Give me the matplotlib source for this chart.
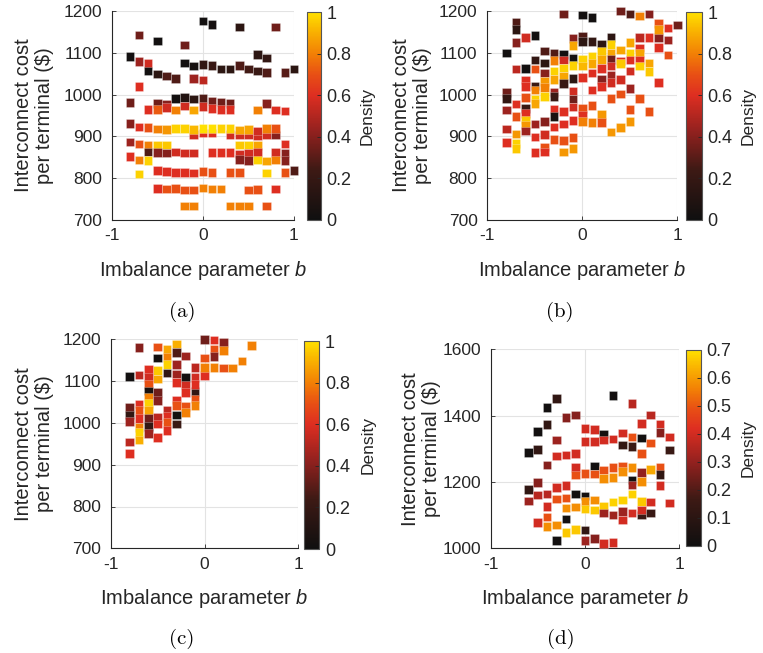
import numpy as np
import matplotlib
matplotlib.use("Agg")
import matplotlib.pyplot as plt
from matplotlib.colors import LinearSegmentedColormap, Normalize

plt.rcParams['font.family'] = ['Liberation Sans', 'DejaVu Sans']
plt.rcParams['mathtext.fontset'] = 'custom'
plt.rcParams['mathtext.rm'] = 'Liberation Sans'
plt.rcParams['mathtext.it'] = 'Liberation Sans:italic'

#=============================================================================
# DATA  (imbalance b, cost per terminal, density)
#=============================================================================

pts_a = [
    (0.0, 1176, 0.02), (0.1, 1168, 0.03), (0.4, 1162, 0.15), (0.8, 1162, 0.35),
    (-0.7, 1143, 0.35), (-0.5, 1128, 0.02), (-0.2, 1119, 0.35), (-0.8, 1091, 0.02),
    (0.6, 1096, 0.15), (0.7, 1088, 0.18), (-0.7, 1079, 0.45), (-0.6, 1075, 0.57),
    (-0.2, 1076, 0.02), (-0.1, 1068, 0.04), (0.0, 1072, 0.18), (0.1, 1069, 0.22),
    (0.2, 1061, 0.15), (0.3, 1061, 0.15), (0.4, 1069, 0.28), (0.5, 1061, 0.25),
    (0.6, 1056, 0.22), (0.7, 1053, 0.28), (0.9, 1053, 0.3), (1.0, 1061, 0.15),
    (-0.6, 1056, 0.02), (-0.5, 1049, 0.15), (-0.4, 1044, 0.28), (-0.3, 1039, 0.28),
    (-0.1, 1039, 0.45), (0.0, 1035, 0.52), (-0.7, 1019, 0.6), (-0.8, 981, 0.35),
    (-0.3, 991, 0.02), (-0.2, 993, 0.1), (-0.1, 989, 0.15), (0.0, 991, 0.28),
    (0.1, 985, 0.35), (0.2, 982, 0.35), (0.3, 979, 0.35), (0.7, 979, 0.4),
    (-0.5, 979, 0.35), (-0.4, 977, 0.4), (-0.6, 965, 0.6), (-0.5, 965, 0.72),
    (-0.4, 969, 0.57), (-0.3, 963, 0.8), (-0.2, 973, 0.57), (-0.1, 963, 0.88),
    (0.0, 971, 0.57), (0.1, 967, 0.6), (0.2, 965, 0.6), (0.3, 965, 0.6),
    (0.6, 963, 0.8), (0.8, 963, 0.6), (0.9, 961, 0.6), (-0.8, 931, 0.4),
    (-0.1, 905, 0.57), (0.0, 908, 0.6), (0.1, 908, 0.6), (0.3, 905, 0.57),
    (0.4, 903, 0.57), (0.5, 905, 0.57), (0.6, 901, 0.57), (0.7, 905, 0.57),
    (0.8, 903, 0.4), (-0.7, 923, 0.6), (-0.6, 921, 0.7), (-0.5, 918, 0.8),
    (-0.4, 917, 0.85), (-0.3, 919, 0.97), (-0.2, 919, 0.97), (-0.1, 917, 0.92),
    (0.0, 919, 1.0), (0.1, 919, 1.0), (0.2, 919, 0.97), (0.3, 919, 0.97),
    (0.4, 915, 0.88), (0.5, 917, 0.88), (0.6, 913, 0.57), (0.7, 919, 0.8),
    (0.8, 919, 0.7), (-0.8, 887, 0.45), (-0.7, 882, 0.7), (-0.6, 878, 0.8),
    (-0.5, 879, 0.95), (-0.4, 879, 0.95), (0.4, 879, 0.95), (0.5, 879, 0.97),
    (0.6, 878, 0.88), (0.9, 882, 0.6), (-0.6, 863, 0.28), (-0.5, 861, 0.4),
    (-0.4, 860, 0.4), (-0.3, 863, 0.57), (-0.2, 860, 0.57), (-0.1, 860, 0.57),
    (0.1, 861, 0.6), (0.2, 861, 0.6), (0.3, 861, 0.6), (0.4, 858, 0.57),
    (0.5, 860, 0.57), (0.6, 862, 0.57), (0.8, 862, 0.57), (0.9, 860, 0.4),
    (-0.8, 852, 0.6), (-0.7, 844, 0.8), (-0.6, 842, 0.97), (0.4, 845, 0.4),
    (0.5, 842, 0.4), (0.6, 844, 0.97), (0.7, 841, 0.88), (0.8, 844, 0.8),
    (0.9, 842, 0.4), (-0.7, 810, 0.97), (-0.5, 818, 0.6), (-0.4, 816, 0.6),
    (-0.3, 813, 0.6), (-0.2, 813, 0.6), (-0.1, 812, 0.6), (0.0, 816, 0.7),
    (0.1, 813, 0.7), (0.3, 813, 0.7), (0.4, 813, 0.7), (0.7, 812, 0.97),
    (0.9, 813, 0.7), (1.0, 818, 0.28), (-0.5, 776, 0.6), (-0.4, 774, 0.7),
    (-0.3, 776, 0.7), (-0.2, 772, 0.7), (-0.1, 772, 0.7), (0.0, 777, 0.8),
    (0.1, 774, 0.8), (0.2, 774, 0.8), (0.5, 772, 0.7), (0.6, 773, 0.7),
    (0.8, 774, 0.6), (-0.2, 734, 0.8), (-0.1, 734, 0.8), (0.3, 734, 0.8),
    (0.4, 734, 0.8), (0.5, 734, 0.8), (0.7, 734, 0.7),
]

pts_b = [
    (-0.2, 1193, 0.35), (0.0, 1190, 0.02), (0.1, 1184, 0.02), (0.4, 1200, 0.35),
    (0.5, 1193, 0.28), (0.6, 1188, 0.8), (0.7, 1193, 0.4), (0.8, 1170, 0.7),
    (0.9, 1159, 0.6), (1.0, 1167, 0.35), (-0.7, 1172, 0.28), (-0.7, 1156, 0.15),
    (-0.7, 1124, 0.4), (-0.6, 1136, 0.57), (-0.5, 1141, 0.02), (-0.8, 1099, 0.02),
    (-0.4, 1104, 0.28), (-0.3, 1099, 0.28), (-0.2, 1096, 0.02), (-0.1, 1134, 0.4),
    (-0.1, 1117, 0.88), (0.0, 1140, 0.28), (0.0, 1127, 0.15), (0.1, 1127, 0.18),
    (0.2, 1121, 0.15), (0.3, 1136, 0.15), (0.3, 1120, 0.97), (0.4, 1107, 0.88),
    (0.5, 1124, 0.88), (0.6, 1136, 0.52), (0.6, 1111, 0.6), (0.6, 1099, 0.88),
    (0.7, 1136, 0.6), (0.8, 1136, 0.4), (0.8, 1113, 0.6), (0.9, 1131, 0.45),
    (0.9, 1095, 0.7), (0.8, 1156, 0.85), (-0.5, 1083, 0.18), (-0.4, 1076, 0.15),
    (-0.3, 1081, 0.8), (-0.2, 1083, 0.57), (-0.1, 1087, 0.02), (0.0, 1084, 0.97),
    (0.0, 1068, 0.92), (0.1, 1092, 0.97), (0.1, 1075, 0.88), (0.2, 1103, 0.95),
    (0.2, 1084, 0.88), (0.3, 1099, 0.88), (0.3, 1084, 0.35), (0.3, 1068, 0.57),
    (0.4, 1080, 0.6), (0.4, 1075, 0.95), (0.5, 1100, 0.97), (0.5, 1083, 0.6),
    (0.5, 1056, 0.57), (0.6, 1083, 0.6), (0.6, 1068, 0.97), (0.7, 1076, 0.88),
    (0.7, 1055, 0.95), (0.8, 1029, 0.6), (-0.7, 1061, 0.52), (-0.6, 1063, 0.02),
    (-0.5, 1061, 0.7), (-0.4, 1052, 0.4), (-0.3, 1056, 0.97), (-0.3, 1036, 0.88),
    (-0.2, 1064, 0.97), (-0.2, 1044, 0.88), (-0.1, 1069, 0.97), (-0.1, 1039, 0.15),
    (-0.2, 1027, 0.22), (0.0, 1041, 0.6), (0.1, 1052, 0.6), (0.2, 1063, 0.6),
    (0.3, 1047, 0.45), (0.4, 1036, 0.57), (-0.6, 1035, 0.6), (-0.6, 1019, 0.6),
    (-0.5, 1021, 0.22), (-0.5, 1011, 0.8), (-0.4, 1031, 0.85), (-0.4, 1017, 0.8),
    (0.2, 1036, 0.4), (0.2, 1019, 0.6), (0.1, 1011, 0.6), (0.3, 1029, 0.57),
    (0.4, 1001, 0.7), (0.3, 991, 0.7), (0.5, 1015, 0.45), (0.6, 991, 0.7),
    (-0.1, 1009, 0.57), (-0.3, 1005, 0.45), (-0.3, 995, 0.22), (-0.8, 1005, 0.35),
    (-0.8, 991, 0.18), (-0.6, 993, 0.7), (-0.5, 989, 0.97), (-0.5, 979, 0.88),
    (-0.4, 995, 0.97), (-0.1, 989, 0.35), (-0.7, 977, 0.6), (-0.6, 967, 0.22),
    (-0.8, 963, 0.45), (-0.3, 966, 0.6), (-0.2, 959, 0.6), (-0.1, 970, 0.57),
    (0.0, 967, 0.7), (0.1, 974, 0.7), (0.0, 951, 0.6), (0.2, 953, 0.85),
    (0.5, 965, 0.7), (0.7, 959, 0.7), (-0.7, 947, 0.7), (-0.6, 955, 0.6),
    (-0.6, 939, 0.95), (-0.6, 927, 0.85), (-0.6, 913, 0.45), (-0.3, 947, 0.05),
    (-0.5, 930, 0.45), (-0.4, 935, 0.4), (-0.3, 922, 0.6), (-0.2, 930, 0.6),
    (-0.1, 938, 0.6), (0.0, 935, 0.8), (0.1, 933, 0.8), (0.2, 933, 0.7),
    (0.3, 911, 0.85), (0.4, 921, 0.85), (0.5, 935, 0.85), (-0.8, 918, 0.52),
    (-0.7, 906, 0.85), (-0.8, 886, 0.6), (-0.7, 883, 0.97), (-0.7, 871, 0.95),
    (-0.5, 899, 0.6), (-0.4, 905, 0.57), (-0.3, 893, 0.7), (-0.2, 890, 0.7),
    (-0.1, 898, 0.7), (-0.4, 875, 0.7), (-0.4, 863, 0.6), (-0.5, 861, 0.6),
    (-0.2, 863, 0.85), (-0.1, 871, 0.85),
]

pts_c = [
    (-0.7, 1181, 0.4), (-0.5, 1182, 0.7), (-0.4, 1176, 0.88), (-0.3, 1189, 0.9),
    (-0.5, 1155, 0.02), (-0.4, 1157, 0.8), (-0.3, 1168, 0.28), (-0.2, 1160, 0.45),
    (-0.4, 1140, 0.97), (-0.5, 1125, 0.95), (-0.5, 1105, 0.88), (-0.4, 1119, 0.18),
    (-0.3, 1140, 0.45), (-0.3, 1117, 0.45), (-0.3, 1096, 0.6), (-0.8, 1111, 0.02),
    (-0.7, 1115, 0.52), (-0.6, 1128, 0.6), (-0.6, 1109, 0.57), (-0.6, 1092, 0.7),
    (-0.6, 1076, 0.04), (-0.6, 1061, 0.8), (-0.6, 1047, 0.97), (-0.6, 1029, 0.88),
    (-0.6, 1011, 0.35), (-0.5, 1073, 0.35), (-0.5, 1053, 0.4), (-0.2, 1109, 0.02),
    (-0.2, 1091, 0.57), (-0.2, 1073, 0.6), (-0.1, 1075, 0.18), (-0.1, 1132, 0.52),
    (-0.1, 1108, 0.57), (-0.1, 1092, 0.6), (-0.1, 1057, 0.7), (-0.1, 1041, 0.8),
    (0.0, 1113, 0.6), (0.0, 1133, 0.8), (0.0, 1155, 0.7), (0.0, 1200, 0.35),
    (0.1, 1198, 0.6), (0.1, 1176, 0.7), (0.1, 1159, 0.4), (0.1, 1133, 0.8),
    (0.2, 1192, 0.4), (0.2, 1173, 0.8), (0.2, 1131, 0.7), (0.3, 1131, 0.8),
    (0.4, 1148, 0.8), (0.5, 1185, 0.8), (-0.3, 1055, 0.6), (-0.3, 1041, 0.7),
    (-0.2, 1039, 0.7), (-0.2, 1025, 0.8), (-0.8, 1037, 0.35), (-0.8, 1019, 0.18),
    (-0.8, 1003, 0.45), (-0.7, 1045, 0.6), (-0.7, 1029, 0.7), (-0.7, 1011, 0.6),
    (-0.7, 989, 0.8), (-0.7, 977, 0.97), (-0.7, 959, 0.9), (-0.6, 991, 0.18),
    (-0.6, 974, 0.45), (-0.5, 1013, 0.52), (-0.5, 997, 0.6), (-0.5, 965, 0.6),
    (-0.4, 1031, 0.52), (-0.4, 1017, 0.6), (-0.4, 1001, 0.7), (-0.4, 982, 0.6),
    (-0.3, 1019, 0.02), (-0.3, 997, 0.22), (-0.8, 954, 0.52), (-0.8, 927, 0.6),
]

pts_d = [
    (-0.3, 1452, 0.125), (-0.4, 1424, 0.015), (0.3, 1460, 0.015), (0.5, 1437, 0.36),
    (-0.2, 1395, 0.28), (-0.1, 1402, 0.28), (0.7, 1402, 0.36), (-0.5, 1352, 0.015),
    (-0.4, 1374, 0.125), (-0.3, 1327, 0.315), (0.0, 1362, 0.40), (0.1, 1359, 0.40),
    (0.2, 1345, 0.015), (0.4, 1347, 0.40), (0.5, 1335, 0.49), (0.6, 1377, 0.40),
    (0.8, 1375, 0.40), (0.8, 1349, 0.28), (0.9, 1335, 0.40), (-0.6, 1288, 0.015),
    (-0.5, 1298, 0.125), (0.0, 1322, 0.40), (0.1, 1322, 0.40), (0.2, 1327, 0.40),
    (0.3, 1330, 0.40), (0.4, 1312, 0.125), (0.5, 1307, 0.155), (0.6, 1332, 0.015),
    (0.7, 1317, 0.49), (0.9, 1296, 0.155), (-0.3, 1278, 0.40), (-0.2, 1281, 0.40),
    (-0.1, 1286, 0.40), (0.6, 1286, 0.49), (-0.4, 1251, 0.28), (-0.1, 1244, 0.40),
    (-0.1, 1221, 0.49), (0.0, 1226, 0.49), (0.1, 1248, 0.015), (0.1, 1224, 0.49),
    (0.2, 1236, 0.49), (0.2, 1211, 0.58), (0.3, 1243, 0.49), (0.3, 1214, 0.58),
    (0.4, 1248, 0.49), (0.4, 1231, 0.58), (0.5, 1243, 0.58), (0.5, 1206, 0.015),
    (0.5, 1191, 0.315), (0.6, 1228, 0.30), (0.6, 1201, 0.58), (0.7, 1238, 0.62),
    (0.8, 1243, 0.49), (0.8, 1223, 0.125), (0.8, 1189, 0.40), (-0.6, 1178, 0.125),
    (-0.5, 1198, 0.28), (-0.6, 1143, 0.315), (-0.5, 1161, 0.36), (-0.4, 1164, 0.36),
    (-0.3, 1184, 0.40), (-0.2, 1189, 0.40), (-0.4, 1126, 0.40), (-0.3, 1148, 0.49),
    (-0.2, 1151, 0.49), (-0.1, 1164, 0.015), (0.0, 1158, 0.015), (-0.2, 1121, 0.58),
    (-0.1, 1124, 0.58), (0.0, 1141, 0.58), (0.0, 1118, 0.665), (0.1, 1146, 0.58),
    (0.1, 1116, 0.665), (0.2, 1128, 0.665), (0.3, 1139, 0.68), (0.4, 1146, 0.68),
    (0.5, 1164, 0.68), (0.6, 1141, 0.665), (0.7, 1139, 0.40), (0.9, 1136, 0.40),
    (-0.5, 1077, 0.40), (-0.4, 1095, 0.49), (-0.4, 1065, 0.58), (-0.3, 1070, 0.58),
    (-0.2, 1088, 0.015), (-0.2, 1047, 0.665), (-0.1, 1057, 0.665), (0.0, 1055, 0.125),
    (0.2, 1106, 0.315), (0.3, 1100, 0.315), (0.4, 1111, 0.315), (0.4, 1085, 0.40),
    (0.5, 1106, 0.40), (0.6, 1100, 0.155), (0.6, 1116, 0.40), (0.7, 1106, 0.155),
    (-0.3, 1023, 0.015), (0.0, 1023, 0.315), (0.1, 1030, 0.28), (0.2, 1015, 0.40),
    (0.3, 1018, 0.40),
]

yticks_abc = [700, 800, 900, 1000, 1100, 1200]
yticks_d = [1000, 1200, 1400, 1600]
cticks_abc = [0, 0.2, 0.4, 0.6, 0.8, 1]
cticks_d = [0, 0.1, 0.2, 0.3, 0.4, 0.5, 0.6, 0.7]
captions = ['(a)', '(b)', '(c)', '(d)']

#=============================================================================
# STYLE
#=============================================================================

cmap = LinearSegmentedColormap.from_list('dens', [
    (0.00, (0.06, 0.06, 0.06)),
    (0.24, (0.24, 0.10, 0.08)),
    (0.43, (0.58, 0.13, 0.12)),
    (0.60, (0.87, 0.18, 0.13)),
    (0.70, (0.91, 0.31, 0.08)),
    (0.80, (0.95, 0.50, 0.02)),
    (0.92, (0.98, 0.72, 0.00)),
    (1.00, (1.00, 0.88, 0.00)),
])

W, H = 763, 653
dark = '#262626'

def box(l, r, t, b):
    return [l / W, 1 - b / H, (r - l) / W, (b - t) / H]

panels = [
    # data, axes box, cbar box, ylim, yticks, cticks, vmax, ylabel x, density x, caption xy
    (pts_a, (111.7, 294, 11, 220), (306.7, 321, 12, 220), (700, 1200), yticks_abc, cticks_abc, 1.0, 34, 367, (182, 312)),
    (pts_b, (487.3, 677.3, 11, 220), (685.7, 701.7, 12, 220), (700, 1200), yticks_abc, cticks_abc, 1.0, 412, 748, (560, 312)),
    (pts_c, (110.7, 298.3, 339.3, 548.3), (304.3, 319.3, 341, 549), (700, 1200), yticks_abc, cticks_abc, 1.0, 34, 368, (182, 639)),
    (pts_d, (490.7, 679, 349.3, 548.3), (686, 701, 350, 546), (1000, 1600), yticks_d, cticks_d, 0.7, 421, 748, (561, 639)),
]

fig = plt.figure(figsize=(7.63, 6.53), dpi=100)

for i, (pts, ab, cb, ylim, yt, ct, vmax, ylx, dx, cap) in enumerate(panels):
    bb, cost, dens = zip(*pts)
    ax = fig.add_axes(box(*ab))
    norm = Normalize(vmin=0, vmax=vmax)
    sc = ax.scatter(bb, cost, c=dens, cmap=cmap, norm=norm, marker='s', s=38,
                    edgecolors=(1, 1, 1, 0.45), linewidths=0.4, zorder=3,
                    clip_on=False)
    ax.set_xlim(-1, 1)
    ax.set_ylim(*ylim)
    ax.set_xticks([-1, 0, 1])
    ax.set_xticklabels(['-1', '0', '1'])
    ax.set_yticks(yt)
    ax.grid(True, color='#e3e3e3', lw=0.8, zorder=0)
    ax.set_axisbelow(True)
    for s in ['top', 'right']:
        ax.spines[s].set_visible(False)
    for s in ['left', 'bottom']:
        ax.spines[s].set_color(dark)
        ax.spines[s].set_linewidth(0.8)
    ax.tick_params(direction='in', length=3, width=0.6, colors=dark, labelsize=12.5, pad=6)
    ax.tick_params(axis='y', pad=7)

    cax = fig.add_axes(box(*cb))
    cbar = fig.colorbar(sc, cax=cax, ticks=ct)
    cbar.ax.set_yticklabels([('%g' % v) for v in ct])
    cbar.outline.set_edgecolor('#555555')
    cbar.outline.set_linewidth(0.8)
    cbar.ax.tick_params(direction='in', length=3, width=0.6, colors=dark, labelsize=13, pad=4)

    ax_cx = (ab[0] + ab[1]) / 2
    fig.text(ax_cx / W, 1 - (ab[3] + 50) / H, 'Imbalance parameter $b$',
             ha='center', va='center', fontsize=14.5, color=dark)
    fig.text(ylx / W, 1 - ((ab[2] + ab[3]) / 2) / H, 'Interconnect cost\nper terminal ($)',
             ha='center', va='center', rotation=90, fontsize=14.5, color=dark,
             multialignment='center', linespacing=1.15)
    fig.text(dx / W, 1 - ((cb[2] + cb[3]) / 2) / H, 'Density',
             ha='center', va='center', rotation=90, fontsize=12.5, color=dark)
    fig.text(cap[0] / W, 1 - cap[1] / H, captions[i], ha='center', va='center',
             fontsize=15, family=['cmr10', 'DejaVu Serif'])

fig.savefig('out.png', dpi=100)
